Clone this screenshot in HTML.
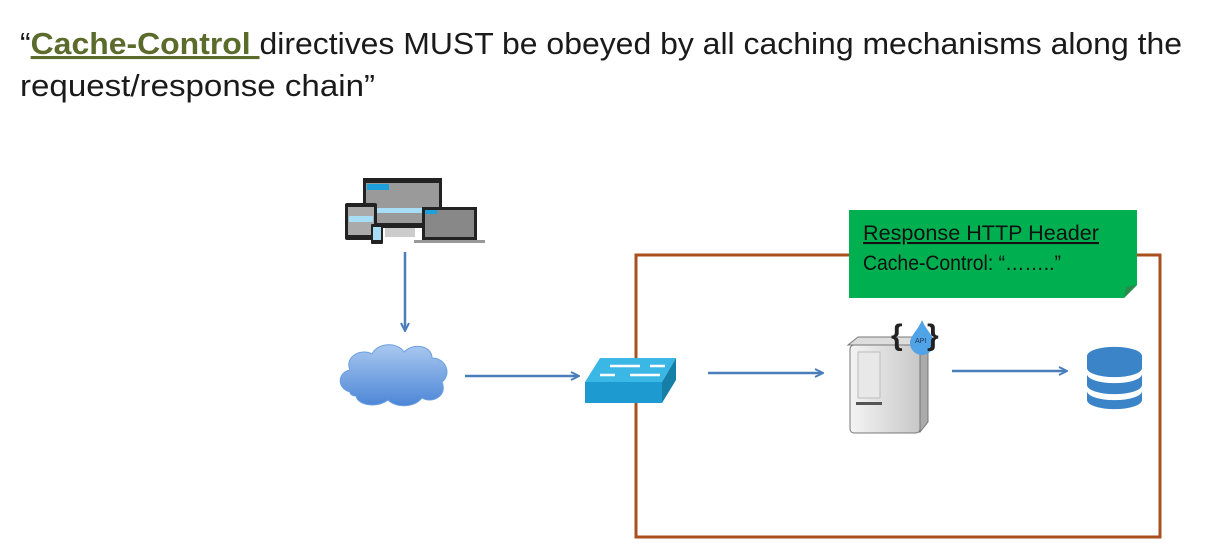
<!DOCTYPE html>
<html><head><meta charset="utf-8"><style>
html,body{margin:0;padding:0;background:#fff;width:1211px;height:554px;overflow:hidden}
</style></head><body>
<svg width="1211" height="554" viewBox="0 0 1211 554" xmlns="http://www.w3.org/2000/svg" font-family="Liberation Sans, sans-serif">
<defs>
<marker id="ah" markerWidth="10" markerHeight="10" refX="8" refY="5" orient="auto" markerUnits="userSpaceOnUse">
<path d="M1,1 L9,5 L1,9" fill="none" stroke="#4a7ebb" stroke-width="2"/>
</marker>
<linearGradient id="cl" x1="0" y1="0" x2="0" y2="1"><stop offset="0" stop-color="#a9c8f0"/><stop offset="1" stop-color="#4d86d6"/></linearGradient>
<linearGradient id="sv" x1="0" y1="0" x2="1" y2="0"><stop offset="0" stop-color="#f4f4f4"/><stop offset="1" stop-color="#c8c8c8"/></linearGradient>
</defs>
<text x="20" y="54" font-size="31" fill="#1a1a1a" textLength="1162" lengthAdjust="spacingAndGlyphs">“<tspan fill="#5a6b2c" font-weight="bold" text-decoration="underline">Cache-Control </tspan>directives MUST be obeyed by all caching mechanisms along the</text>
<text x="20" y="96" font-size="31" fill="#1a1a1a" textLength="355" lengthAdjust="spacingAndGlyphs">request/response chain”</text>

<rect x="636" y="255" width="524" height="282" fill="none" stroke="#a9501f" stroke-width="3"/>

<path d="M849,210 H1137 V285 L1124,298 H849 Z" fill="#00b050"/>
<path d="M1124,298 L1126,287 L1137,285 Z" fill="#2a8a4a"/>
<text x="863" y="240" font-size="21" fill="#111" text-decoration="underline" textLength="236" lengthAdjust="spacingAndGlyphs">Response HTTP Header</text>
<text x="863" y="270" font-size="21" fill="#111" textLength="198" lengthAdjust="spacingAndGlyphs">Cache-Control: “……..”</text>

<rect x="363" y="178" width="79" height="50" fill="#222"/>
<rect x="366" y="183" width="73" height="40" fill="#9a9a9a"/>
<rect x="367" y="184" width="22" height="6" fill="#1ea0dc"/>
<rect x="367" y="208" width="71" height="5" fill="#a8def5"/>
<rect x="385" y="228" width="30" height="9" fill="#ccc"/>
<rect x="345" y="203" width="32" height="37" rx="2" fill="#222"/>
<rect x="348" y="207" width="26" height="28" fill="#aaa"/>
<rect x="349" y="216" width="24" height="6" fill="#a8def5"/>
<rect x="371" y="224" width="12" height="20" rx="1" fill="#222"/>
<rect x="373" y="227" width="8" height="13" fill="#a8def5"/>
<rect x="422" y="207" width="55" height="33" fill="#222"/>
<rect x="425" y="210" width="49" height="27" fill="#888"/>
<rect x="425" y="210" width="12" height="4" fill="#1ea0dc"/>
<rect x="414" y="240" width="71" height="3" fill="#999"/>

<line x1="405" y1="252" x2="405" y2="330" stroke="#4a7ebb" stroke-width="2.5" marker-end="url(#ah)"/>

<path d="M350,392 C336,388 338,372 350,370 C344,356 362,348 372,354 C378,342 398,342 404,352 C414,342 432,346 432,358 C446,358 452,374 442,382 C448,396 432,404 422,398 C414,408 396,408 388,400 C378,408 358,406 356,396 C352,396 350,394 350,392 Z" fill="url(#cl)" stroke="#6c9fe0" stroke-width="1"/>

<line x1="465" y1="376" x2="578" y2="376" stroke="#4a7ebb" stroke-width="2.5" marker-end="url(#ah)"/>

<path d="M585,382 L600,358 H676 L662,382 Z" fill="#3bb7e6"/>
<path d="M662,382 L676,358 V380 L662,403 Z" fill="#157fa8"/>
<rect x="585" y="382" width="77" height="21" fill="#1d9bd0"/>
<path d="M610,366 H640 M615,375 H600 M630,375 H660 M650,366 H665" stroke="#fff" stroke-width="2.5"/>

<line x1="708" y1="373" x2="822" y2="373" stroke="#4a7ebb" stroke-width="2.5" marker-end="url(#ah)"/>

<path d="M848,345 L858,337 H928 L920,345 Z" fill="#ddd" stroke="#777"/>
<path d="M920,345 L928,337 V422 L920,432 Z" fill="#aaa" stroke="#777"/>
<rect x="850" y="345" width="70" height="88" rx="4" fill="url(#sv)" stroke="#777"/>
<rect x="858" y="352" width="22" height="46" fill="#e8e8e8" stroke="#bbb"/>
<rect x="856" y="402" width="26" height="3" fill="#555"/>
<path d="M922,320 C918,330 910,336 910,343 A12,12 0 0 0 934,343 C934,336 926,330 922,320 Z" fill="#4fa3e6"/>
<text x="915" y="343" font-size="7" fill="#235">API</text>
<text x="891" y="345" font-size="30" font-weight="bold" fill="#222">{</text>
<text x="927" y="345" font-size="30" font-weight="bold" fill="#222">}</text>

<line x1="952" y1="371" x2="1066" y2="371" stroke="#4a7ebb" stroke-width="2.5" marker-end="url(#ah)"/>

<g fill="#3b84c8">
<path d="M1087,356 A27,9 0 0 1 1142,356 V368 A27,9 0 0 1 1087,368 Z"/>
<path d="M1087,374 A27,9 0 0 0 1142,374 V385 A27,9 0 0 1 1087,385 Z"/>
<path d="M1087,391 A27,9 0 0 0 1142,391 V400 A27,9 0 0 1 1087,400 Z"/>
</g>
</svg>
</body></html>
